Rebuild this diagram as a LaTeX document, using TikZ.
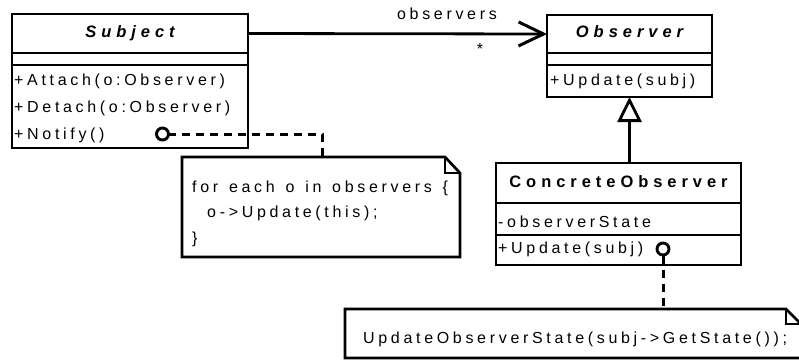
\documentclass[tikz,border=0pt]{standalone}
\usepackage{fontspec}
\setmainfont{Liberation Sans}
\newfontfamily\bodyf[LetterSpace=23, WordSpace=1.33]{Liberation Sans}
\newfontfamily\titlef[LetterSpace=30]{Liberation Sans}
\usetikzlibrary{arrows.meta}
\begin{document}
\begin{tikzpicture}[x=1pt,y=-1pt,
  comp/.style={draw, line width=2.9pt, inner sep=0pt, outer sep=0pt, anchor=north west},
  txt/.style={font=\bodyf\fontsize{16}{18}\selectfont, inner sep=0pt, anchor=base west},
  ttl/.style={font=\titlef\fontsize{16.5}{19}\selectfont\bfseries, inner sep=0pt, anchor=base},
  notebox/.style={inner sep=0pt, outer sep=0pt, anchor=north west},
  noteline/.style={line width=2.7pt, line join=miter},
  dashline/.style={line width=3pt, dash pattern=on 8pt off 6pt},
  lolli/.style={circle, draw, line width=2.9pt, fill=white, minimum size=12pt, inner sep=0pt},
  assoc/.style={line width=2.8pt, -{Straight Barb[length=25pt, width=24pt, line width=3pt]}},
  gen/.style={line width=2.8pt, -{Triangle[open, length=25pt, width=24pt, line width=2.8pt, fill=white]}}
]
\useasboundingbox (0,0) rectangle (799,360);

% Subject
\node[comp, minimum width=236, minimum height=39] (subjname) at (12,14) {};
\node[comp, minimum width=236, minimum height=12] (subjattr) at (12,53) {};
\node[comp, minimum width=236, minimum height=83] (subjops) at (12,65) {};
\node[ttl, font=\titlef\fontsize{16.5}{19}\selectfont\bfseries\itshape] (subjt) at (130,37) {Subject};
\node[txt] (op1) at (14,85.5) {+Attach(o:Observer)};
\node[txt] (op2) at (14,112) {+Detach(o:Observer)};
\node[txt] (op3) at (14,139) {+Notify()};

% Observer
\node[comp, minimum width=165, minimum height=38] (obsname) at (547,15) {};
\node[comp, minimum width=165, minimum height=12] (obsattr) at (547,53) {};
\node[comp, minimum width=165, minimum height=32] (obsops) at (547,65) {};
\node[ttl, font=\titlef\fontsize{16.5}{19}\selectfont\bfseries\itshape] (obst) at (629.5,37) {Observer};
\node[txt] (obsop) at (550,85) {+Update(subj)};

% ConcreteObserver
\node[comp, minimum width=245, minimum height=40] (conname) at (496,163) {};
\node[comp, minimum width=245, minimum height=32] (conattr) at (496,203) {};
\node[comp, minimum width=245, minimum height=30] (conops) at (496,235) {};
\node[ttl] (cont) at (618.5,187) {ConcreteObserver};
\node[txt] (conat) at (498,227) {-observerState};
\node[txt] (conop) at (498,253) {+Update(subj)};

% association
\draw[assoc] (subjname.east) -- (obsname.west);
\node[font=\bodyf\fontsize{16}{18}\selectfont, inner sep=0pt, anchor=base] (rolel) at (447,19.5) {observers};
\node[font=\bodyf\fontsize{16}{18}\selectfont, inner sep=0pt] (mult) at (480,49) {*};

% generalization
\draw[gen] (obsops.south |- conname.north) -- (obsops.south);

% note 1
\node[notebox, minimum width=278, minimum height=100] (note1) at (182,157) {};
\draw[noteline, fill=white] (note1.north west) -- ([xshift=-15pt]note1.north east) -- ([yshift=-16pt]note1.north east) -- (note1.south east) -- (note1.south west) -- cycle;
\draw[line width=1.6pt] ([xshift=-15pt]note1.north east) |- ([yshift=-16pt]note1.north east);
\node[txt] (n1a) at (192,192) {for each o in observers \{};
\node[txt] (n1b) at (207,217.5) {o->Update(this);};
\node[txt] (n1c) at (192,243) {\}};

% note 2
\node[notebox, minimum width=456, minimum height=49] (note2) at (345,309) {};
\draw[noteline, fill=white] (note2.north west) -- ([xshift=-15pt]note2.north east) -- ([yshift=-15pt]note2.north east) -- (note2.south east) -- (note2.south west) -- cycle;
\draw[line width=1.6pt] ([xshift=-15pt]note2.north east) |- ([yshift=-15pt]note2.north east);
\node[txt] (n2a) at (363,343) {UpdateObserverState(subj->GetState());};

% lollipops and dashed links
\coordinate (bend1) at (322,134);
\draw[dashline] (168,134) -- (bend1) -- (bend1 |- note1.north);
\node[lolli] (circ1) at (162.5,134) {};
\node[lolli] (circ2) at (663,249) {};
\draw[dashline] (circ2.south) -- (circ2.south |- note2.north);
\end{tikzpicture}
\end{document}
